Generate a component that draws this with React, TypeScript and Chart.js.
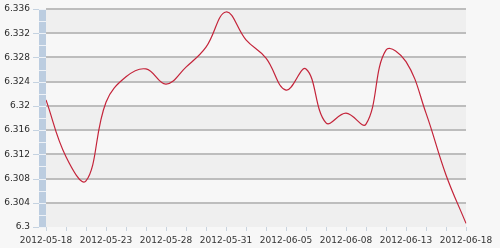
import React, { useEffect, useRef } from "react";
import { Chart, registerables } from "chart.js";

Chart.register(...registerables);

const dates = [
  "2012-05-18", "2012-05-21", "2012-05-22", "2012-05-23", "2012-05-24", "2012-05-25",
  "2012-05-28", "2012-05-29", "2012-05-30", "2012-05-31", "2012-06-01", "2012-06-04",
  "2012-06-05", "2012-06-06", "2012-06-07", "2012-06-08", "2012-06-11", "2012-06-12",
  "2012-06-13", "2012-06-14", "2012-06-15", "2012-06-18",
];
const rates = [
  6.3210, 6.3116, 6.3076, 6.3206, 6.3248, 6.3261, 6.3236, 6.3264, 6.3297, 6.3355, 6.3309,
  6.3279, 6.3226, 6.3261, 6.3172, 6.3188, 6.3170, 6.3292, 6.3273, 6.3188, 6.3086, 6.3006,
];
const yMin = 6.3;
const yMax = 6.336;
const yStep = 0.004;
const labelEvery = 3;

const decorPlugin = {
  id: "decor",
  beforeDraw(chart: any) {
    const { ctx, chartArea, scales } = chart;
    const y = scales.y;
    ctx.save();
    const n = Math.round((yMax - yMin) / yStep);
    for (let i = 0; i < n; i++) {
      const top = y.getPixelForValue(yMax - i * yStep);
      const bot = y.getPixelForValue(yMax - (i + 1) * yStep);
      ctx.fillStyle = i % 2 === 0 ? "#efefef" : "#f7f7f7";
      ctx.fillRect(chartArea.left, top, chartArea.right - chartArea.left, bot - top);
    }
    ctx.restore();
  },
  afterDraw(chart: any) {
    const { ctx, chartArea, scales } = chart;
    const y = scales.y;
    ctx.save();
    const barL = chartArea.left - 7;
    ctx.fillStyle = "#bccde0";
    ctx.fillRect(barL, chartArea.top, 7, chartArea.bottom - chartArea.top);
    const n = Math.round((yMax - yMin) / (yStep / 2));
    ctx.fillStyle = "#eef2f7";
    for (let i = 0; i <= n; i++) {
      const py = Math.round(y.getPixelForValue(yMax - (i * yStep) / 2));
      ctx.fillRect(barL, py, 7, 1);
    }
    ctx.fillStyle = "#c4d2e0";
    const m = Math.round((yMax - yMin) / yStep);
    for (let i = 0; i <= m; i++) {
      const py = Math.round(y.getPixelForValue(yMax - i * yStep));
      ctx.fillRect(barL - 6, py, 6, 1);
    }
    ctx.restore();
  },
};

export default function App() {
  const ref = useRef<HTMLCanvasElement>(null);
  useEffect(() => {
    if (!ref.current) return;
    const chart = new Chart(ref.current, {
      type: "line",
      data: {
        labels: dates,
        datasets: [
          {
            data: rates,
            borderColor: "#c4243a",
            borderWidth: 1.2,
            pointRadius: 0,
            tension: 0.4,
            fill: false,
          },
        ],
      },
      options: {
        animation: false,
        responsive: false,
        maintainAspectRatio: false,
        layout: { padding: { top: 9, right: 34, left: 0, bottom: 0 } },
        plugins: { legend: { display: false }, tooltip: { enabled: false } },
        scales: {
          x: {
            offset: false,
            border: { display: false },
            grid: {
              drawOnChartArea: false,
              drawTicks: true,
              tickLength: 4,
              color: "#c8d4e0",
            },
            ticks: {
              autoSkip: false,
              maxRotation: 0,
              padding: 4,
              color: "#333",
              font: { family: "DejaVu Sans", size: 9 },
              callback: (_v: any, i: number) => (i % labelEvery === 0 ? dates[i] : ""),
            },
            afterFit: (s: any) => {
              s.height = 21;
              s.paddingLeft = 0;
              s.paddingRight = 0;
            },
          },
          y: {
            min: yMin,
            max: yMax,
            border: { display: false },
            grid: {
              drawTicks: false,
              lineWidth: 2,
              color: (c: any) =>
                Math.abs(c.tick.value - yMin) < 1e-9 ? "rgba(0,0,0,0)" : "#bdbdbd",
            },
            ticks: {
              stepSize: yStep,
              padding: 16,
              color: "#2a2a2a",
              font: { family: "DejaVu Sans", size: 9 },
              callback: (v: any) => String(parseFloat(Number(v).toFixed(3))),
            },
            afterFit: (s: any) => {
              s.width = 46;
              s.paddingTop = 0;
              s.paddingBottom = 0;
            },
          },
        },
      },
      plugins: [decorPlugin],
    });
    return () => chart.destroy();
  }, []);
  return (
    <div
      style={{
        position: "absolute",
        left: 0,
        top: 0,
        width: 500,
        height: 248,
        background: "#f7f7f7",
      }}
    >
      <canvas ref={ref} width={500} height={248} />
    </div>
  );
}
